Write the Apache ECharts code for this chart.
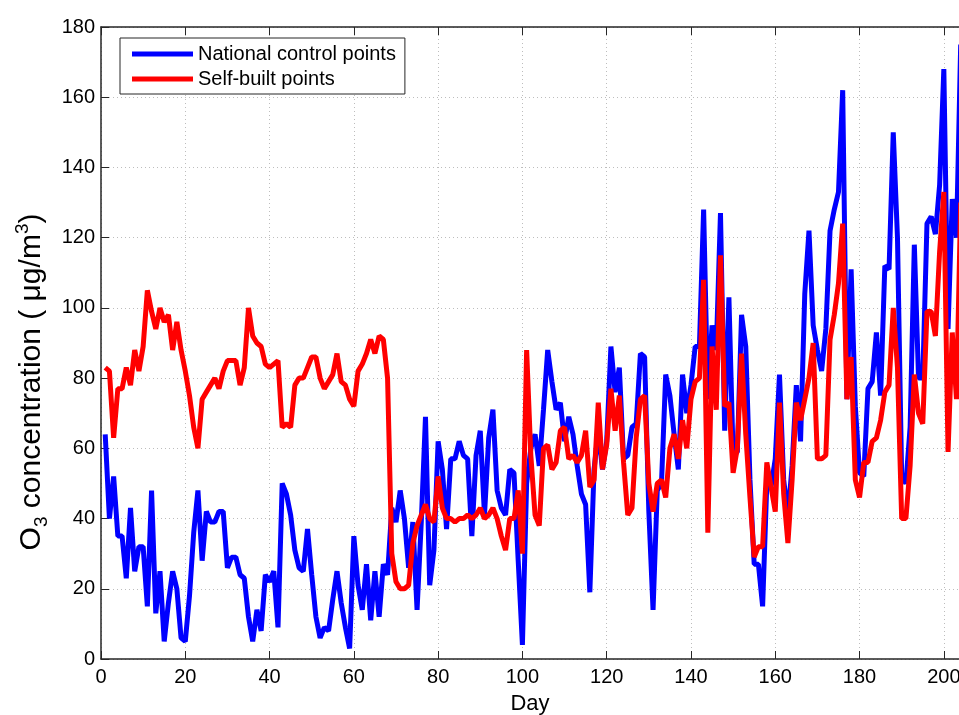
<!DOCTYPE html>
<html><head><meta charset="utf-8">
<script src="https://cdn.jsdelivr.net/npm/echarts@6/dist/echarts.min.js"></script>
<style>html,body{margin:0;padding:0;background:#fff}#c{width:959px;height:715px}</style>
</head><body><div id="c"></div>
<script>
const firstDay = 1;
const nationalControl = [
64,40,52,35,35,23,43,25,32,32,
15,48,13,25,5,16,25,20,6,5,
18,36,48,28,42,39,39,42,42,26,
29,29,24,23,12,5,14,8,24,22,
25,9,50,47,41,31,26,25,37,24,
12,6,9,8,17,25,16,9,3,35,
21,14,27,11,25,12,27,24,43,39,
48,40,26,39,14,39,69,21,31,62,
54,37,57,57,62,58,57,35,58,65,
41,63,71,48,43,41,54,53,28,4,
50,60,64,55,71,88,79,71,73,62,
69,64,55,47,44,19,54,65,54,62,
89,76,83,57,58,66,67,87,86,42,
14,48,50,81,75,64,54,81,70,78,
89,89,128,74,95,88,127,65,103,58,
59,98,89,51,27,27,15,50,49,57,
81,51,41,55,78,62,104,122,95,88,
82,94,122,128,133,162,74,111,72,53,
52,77,79,93,75,112,111,150,120,52,
50,66,118,80,80,124,126,121,135,168,
94,131,120,175];
const selfBuilt = [
83,82,63,77,77,83,78,88,82,89,
105,99,94,100,96,98,88,96,88,82,
75,66,60,74,76,78,80,77,82,85,
85,85,78,83,100,92,90,89,84,83,
84,85,66,67,66,78,80,80,83,86,
86,80,77,79,81,87,79,78,74,72,
82,84,87,91,87,92,91,80,30,22,
20,20,21,33,38,41,44,40,39,52,
43,40,40,39,40,40,41,40,41,43,
40,41,43,40,35,31,40,40,48,30,
88,58,41,38,60,61,54,56,65,66,
57,58,56,58,65,49,51,73,54,61,
77,65,75,56,41,43,63,74,75,50,
42,50,51,46,60,64,57,68,60,74,
79,80,108,36,89,71,115,72,73,53,
60,87,64,46,29,32,32,56,49,42,
73,47,33,51,73,68,74,80,90,57,
57,58,91,98,107,124,74,86,51,46,
56,56,62,63,68,76,78,100,83,40,
40,55,81,70,67,99,99,92,116,133,
59,93,74,130];
const seriesNames = ['National control points', 'Self-built points'];
const xMin = 0, xMax = 203.6, xStep = 20;
const yMin = 0, yMax = 180, yStep = 20;

const toPairs = arr => arr.map((v, i) => [firstDay + i, v]);
const font = 'Liberation Sans, Arial, Helvetica, sans-serif';
const axisColor = '#262626';

const chart = echarts.init(document.getElementById('c'), null, {renderer: 'canvas'});
chart.setOption({
  animation: false,
  backgroundColor: '#ffffff',
  grid: {left: 101, top: 27, right: 0, bottom: 56, containLabel: false, outerBoundsMode: 'none'},
  legend: {
    orient: 'vertical', left: 120, top: 38,
    data: seriesNames.map(n => ({name: n, icon: 'rect'})),
    itemWidth: 61, itemHeight: 5, itemGap: 5,
    padding: [6, 9, 5, 12],
    backgroundColor: '#ffffff', borderColor: '#262626', borderWidth: 1,
    textStyle: {fontFamily: font, fontSize: 20, color: '#000', lineHeight: 20},
    inactiveColor: '#ccc'
  },
  xAxis: [{
    type: 'value', min: xMin, max: xMax, interval: xStep,
    name: 'Day', nameLocation: 'middle', nameGap: 45, nameMoveOverlap: false,
    nameTextStyle: {fontFamily: font, fontSize: 22, color: '#000', verticalAlign: 'middle'},
    axisLine: {show: true, onZero: false, lineStyle: {color: axisColor, width: 1.5}},
    axisTick: {show: true, inside: true, length: 8, lineStyle: {color: axisColor, width: 1}},
    axisLabel: {fontFamily: font, fontSize: 20, color: '#000', margin: 8, showMaxLabel: false,
      formatter: v => (v % xStep === 0 ? String(v) : '')},
    splitLine: {show: true, lineStyle: {color: '#bdbdbd', type: [1, 3], width: 1}}
  }, {
    type: 'value', position: 'top', min: xMin, max: xMax, interval: xStep,
    axisLine: {show: true, onZero: false, lineStyle: {color: axisColor, width: 1.5}},
    axisTick: {show: true, inside: true, length: 8, lineStyle: {color: axisColor, width: 1}},
    axisLabel: {show: false}, splitLine: {show: false}
  }],
  yAxis: {
    type: 'value', min: yMin, max: yMax, interval: yStep,
    axisLine: {show: true, onZero: false, lineStyle: {color: axisColor, width: 1.5}},
    axisTick: {show: true, inside: true, length: 8, lineStyle: {color: axisColor, width: 1}},
    axisLabel: {fontFamily: font, fontSize: 20, color: '#000', margin: 6},
    splitLine: {show: true, lineStyle: {color: '#bdbdbd', type: [1, 3], width: 1}}
  },
  graphic: [{
    type: 'text', x: 32, y: 382, rotation: Math.PI / 2,
    style: {
      text: '{m|O}{sub|3}{m| concentration ( μg/m}{sup|3}{m|)}',
      align: 'center', verticalAlign: 'middle',
      rich: {
        m: {fontFamily: font, fontSize: 30, fill: '#000', lineHeight: 38, verticalAlign: 'middle'},
        sub: {fontFamily: font, fontSize: 19, fill: '#000', lineHeight: 19, verticalAlign: 'bottom'},
        sup: {fontFamily: font, fontSize: 19, fill: '#000', lineHeight: 19, verticalAlign: 'top'}
      }
    }
  }],
  series: [{
    name: seriesNames[0], type: 'line', data: toPairs(nationalControl),
    showSymbol: false, symbol: 'none', clip: true,
    lineStyle: {color: '#0000ff', width: 5}, itemStyle: {color: '#0000ff'}
  }, {
    name: seriesNames[1], type: 'line', data: toPairs(selfBuilt),
    showSymbol: false, symbol: 'none', clip: true,
    lineStyle: {color: '#ff0000', width: 5}, itemStyle: {color: '#ff0000'}
  }]
});
</script></body></html>
